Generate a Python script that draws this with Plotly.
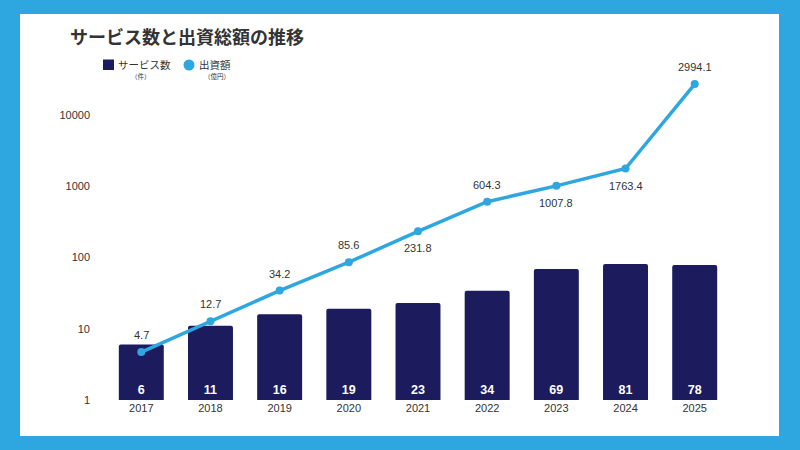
import math
import plotly.graph_objects as go

# data
years = ["2017", "2018", "2019", "2020", "2021", "2022", "2023", "2024", "2025"]
service_counts = [6, 11, 16, 19, 23, 34, 69, 81, 78]
# plotted positions of the investment line (the last point sits near 27000 on the axis)
investment = [4.7, 12.7, 34.2, 85.6, 231.8, 604.3, 1007.8, 1763.4, 27000]
investment_labels = ["4.7", "12.7", "34.2", "85.6", "231.8", "604.3", "1007.8", "1763.4", "2994.1"]
label_above = [True, True, True, True, False, True, False, False, True]
y_ticks = [1, 10, 100, 1000, 10000]

NAVY = "#1b1b5e"
SKY = "#2ea6df"
TEXT = "#333333"
FONT = "Liberation Sans, Noto Sans CJK JP, sans-serif"

W, H = 800, 450
L, R, T, B = 105, 69, 72, 50
PW, PH = W - L - R, H - T - B


def px(x):
    return (x - L) / PW


def py(y):
    return (H - B - y) / PH


fig = go.Figure()

fig.add_bar(
    x=years, y=service_counts,
    marker=dict(color=NAVY, line=dict(width=0)),
    width=0.65,
    text=[str(v) for v in service_counts],
    textposition="inside", insidetextanchor="start",
    textfont=dict(color="white", size=12.5, family="Liberation Sans", weight="bold"),
    showlegend=False, hoverinfo="skip",
)

fig.add_scatter(
    x=years, y=investment,
    mode="lines+markers",
    line=dict(color=SKY, width=3.5),
    marker=dict(color=SKY, size=8),
    showlegend=False, hoverinfo="skip", cliponaxis=False,
)

shapes = [
    # white card on the blue background
    dict(type="rect", xref="paper", yref="paper", layer="below",
         x0=px(20), x1=px(779), y0=py(436), y1=py(14),
         fillcolor="white", line=dict(width=0)),
    # legend symbols
    dict(type="rect", xref="paper", yref="paper",
         x0=px(103), x1=px(114), y0=py(70), y1=py(59.5),
         fillcolor=NAVY, line=dict(width=0)),
    dict(type="circle", xref="paper", yref="paper",
         x0=px(183.5), x1=px(194.5), y0=py(70.5), y1=py(59.5),
         fillcolor=SKY, line=dict(width=0)),
]

annotations = [
    dict(text="<b>サービス数と出資総額の推移</b>", x=px(68), y=py(36),
         xanchor="left", yanchor="middle",
         font=dict(size=18, color=TEXT, family="Noto Sans CJK JP")),
    dict(text="サービス数", x=px(116), y=py(64.5), xanchor="left", yanchor="middle",
         font=dict(size=10.5, color=TEXT, family="Noto Sans CJK JP")),
    dict(text="（件）", x=px(141), y=py(76.5), xanchor="center", yanchor="middle",
         font=dict(size=6.5, color=TEXT, family="Noto Sans CJK JP")),
    dict(text="出資額", x=px(197), y=py(64.5), xanchor="left", yanchor="middle",
         font=dict(size=10.5, color=TEXT, family="Noto Sans CJK JP")),
    dict(text="（億円）", x=px(217), y=py(76.5), xanchor="center", yanchor="middle",
         font=dict(size=6.5, color=TEXT, family="Noto Sans CJK JP")),
]
for a in annotations:
    a.update(xref="paper", yref="paper", showarrow=False)

# value labels of the investment line, above or below each point
# (annotations on a log axis take log10 positions)
for i, (val, lab, up) in enumerate(zip(investment, investment_labels, label_above)):
    annotations.append(dict(
        x=i, y=math.log10(val), xref="x", yref="y", text=lab, showarrow=False,
        yshift=17 if up else -17, xanchor="center", yanchor="middle",
        font=dict(size=11, color=TEXT, family=FONT)))

fig.update_layout(
    width=W, height=H,
    margin=dict(l=L, r=R, t=T, b=B),
    paper_bgcolor=SKY, plot_bgcolor="white",
    font=dict(family=FONT, color=TEXT, size=11),
    barcornerradius=2,
    shapes=shapes, annotations=annotations,
    xaxis=dict(type="category", showgrid=False, showline=False, zeroline=False,
               ticks="", tickfont=dict(size=11, color=TEXT)),
    yaxis=dict(type="log", range=[0, 4.6], tickvals=y_ticks,
               ticktext=[str(v) for v in y_ticks],
               showgrid=False, showline=False, zeroline=False,
               ticks="", ticklabelstandoff=14,
               tickfont=dict(size=11, color=TEXT)),
)

# drop the page's default body margin so the 800x450 figure fills the window
fig.write_html("out.html", config={"displayModeBar": False},
               post_script="document.body.style.margin='0';document.body.style.overflow='hidden';")
